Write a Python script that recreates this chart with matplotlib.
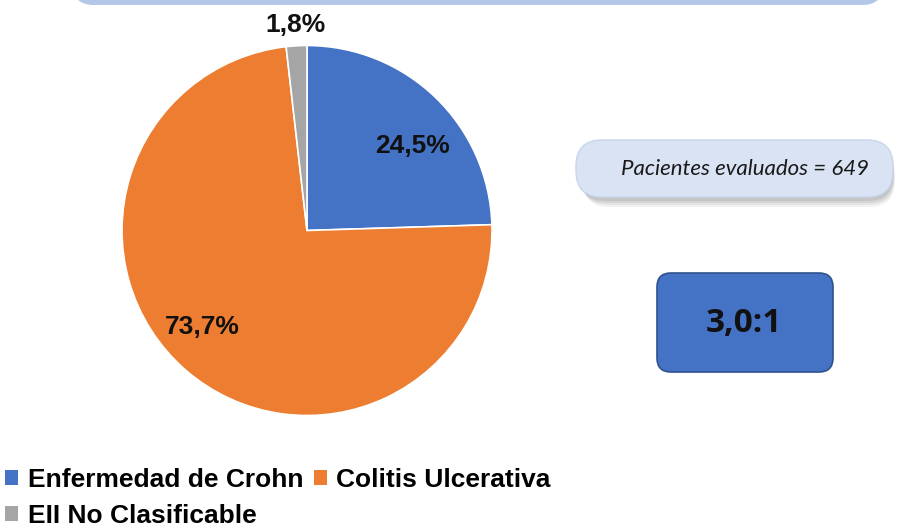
import matplotlib
matplotlib.use("Agg")
import matplotlib.pyplot as plt
from matplotlib.patches import FancyBboxPatch, Rectangle

categories = ["Enfermedad de Crohn", "Colitis Ulcerativa", "EII No Clasificable"]
values = [24.5, 73.7, 1.8]
labels = ["24,5%", "73,7%", "1,8%"]
colors = ["#4472C4", "#ED7D31", "#A5A5A5"]
patients_text = "Pacientes evaluados = 649"
ratio_text = "3,0:1"

W, H = 904, 527
fig = plt.figure(figsize=(W / 100, H / 100), dpi=100)

# overlay axes in pixel coordinates (y from top)
ov = fig.add_axes([0, 0, 1, 1])
ov.set_xlim(0, W)
ov.set_ylim(H, 0)
ov.axis("off")

# top cut-off banner
ov.add_patch(FancyBboxPatch((72, -60), 812, 65, boxstyle="round,pad=0,rounding_size=22",
                            fc="#B4C7E7", ec="none"))

# pie
cx, cy, r = 307, 230.5, 185
pax = fig.add_axes([(cx - r) / W, 1 - (cy + r) / H, 2 * r / W, 2 * r / H])
wedges, _ = pax.pie(values, colors=colors, startangle=90, counterclock=False,
                    radius=1, wedgeprops=dict(edgecolor="white", linewidth=1.2))
pax.set_xlim(-1, 1)
pax.set_ylim(-1, 1)
pax.set_aspect("auto")
pax.axis("off")

lab_pos = [(0.57, 0.455), (-0.565, -0.52), (-0.06, 1.11)]
for (x, y), t in zip(lab_pos, labels):
    pax.text(x, y, t, ha="center", va="center", fontsize=19, fontweight="bold",
             family="Liberation Sans", color="#111111", clip_on=False)

# patients box with soft shadow
for i, a in enumerate([0.10, 0.12, 0.15, 0.18]):
    off = 9 - 2 * i
    ov.add_patch(FancyBboxPatch((577 + off * 0.7, 141 + off), 316 - off * 0.5, 57,
                                boxstyle="round,pad=0,rounding_size=26",
                                fc="#808080", ec="none", alpha=a))
ov.add_patch(FancyBboxPatch((576, 140), 317, 57, boxstyle="round,pad=0,rounding_size=26",
                            fc="#DAE3F3", ec="#C9D5EC", lw=1))
ov.text(745, 169, patients_text, ha="center", va="center", fontsize=16,
        style="italic", family="Lato", color="#1a1a1a")

# ratio box
ov.add_patch(FancyBboxPatch((657, 273), 176, 99, boxstyle="round,pad=0,rounding_size=14",
                            fc="#4472C4", ec="#2F528F", lw=1.2))
ov.text(744, 324, ratio_text, ha="center", va="center", fontsize=24,
        fontweight="bold", family="Open Sans", color="#111111")

# legend (order so that row 1: Crohn, Colitis; row 2: EII)
order = [0, 2, 1]
handles = [Rectangle((0, 0), 1, 1, fc=colors[i], ec="none") for i in order]
leg = fig.legend(handles, [categories[i] for i in order], loc="upper left",
                 bbox_to_anchor=(0.0, 1 - 463 / H),
                 ncol=2, frameon=False, handlelength=0.5, handleheight=0.5,
                 handletextpad=0.35, columnspacing=0.4, labelspacing=0.45,
                 borderaxespad=0, borderpad=0.2,
                 prop=dict(family="Liberation Sans", weight="bold", size=19))

fig.savefig("out.png", dpi=100)
